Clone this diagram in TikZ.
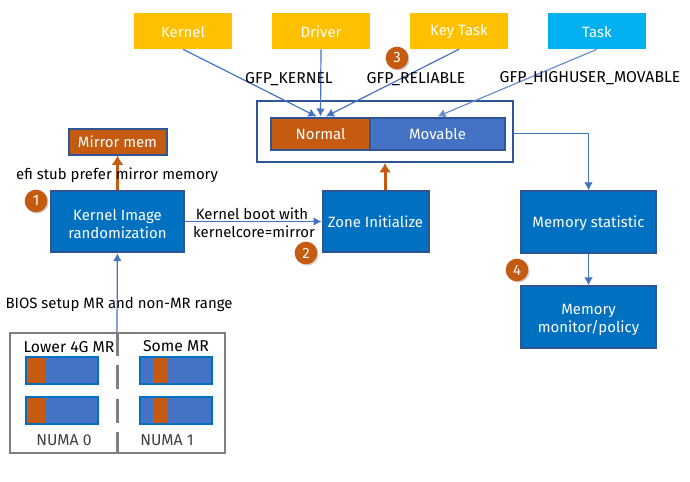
\documentclass[tikz,border=0pt]{standalone}
\usepackage{fontspec}
\setmainfont{Fira Sans}
\usepackage{xcolor}
\definecolor{boxBlue}{RGB}{0,112,192}
\definecolor{edgeBlue}{RGB}{47,85,151}
\definecolor{barBlue}{RGB}{68,114,196}
\definecolor{rustOrange}{RGB}{197,90,17}
\definecolor{keyYellow}{RGB}{255,192,0}
\definecolor{taskCyan}{RGB}{0,176,240}
\definecolor{frameGrey}{RGB}{127,127,127}
\usetikzlibrary{shapes,arrows.meta,positioning,shadows}
\tikzstyle{block} = [draw=edgeBlue, line width=1.5pt, fill=boxBlue, text=white, rectangle, align=center, minimum width=99.5pt, minimum height=46pt, inner sep=0pt, font=\fontsize{11.2}{13.5}\selectfont]
\tikzstyle{tag} = [fill=keyYellow, text=white, rectangle, minimum width=73.5pt, minimum height=27pt, inner sep=0pt, text height=9.5pt, font=\fontsize{11.2}{13.5}\selectfont]
\tikzstyle{zone} = [draw=edgeBlue, line width=1.5pt, text=white, rectangle, minimum height=24pt, inner sep=0pt, font=\fontsize{11.2}{13.5}\selectfont]
\tikzstyle{bar} = [draw=boxBlue, line width=1.5pt, fill=barBlue, rectangle, minimum width=54pt, minimum height=20pt, inner sep=0pt]
\tikzstyle{barMark} = [fill=rustOrange, rectangle, minimum width=13pt, minimum height=18.5pt, inner sep=0pt]
\tikzstyle{badge} = [circle, fill=rustOrange, text=white, minimum size=17pt, inner sep=0pt, font=\fontsize{11.2}{13.5}\selectfont, drop shadow={shadow xshift=1pt, shadow yshift=-1pt, opacity=.35}]
\tikzstyle{note} = [text=black, inner sep=0pt, font=\fontsize{11.2}{13.5}\selectfont]
\tikzstyle{capsNote} = [note, font=\fontsize{11.8}{13.5}\selectfont]
\tikzstyle{lightArrow} = [-{Latex[length=6pt,width=6.5pt]}, draw=barBlue, line width=.9pt]
\tikzstyle{heavyArrow} = [-{Latex[length=7pt,width=9pt]}, draw=rustOrange, line width=2.25pt]

\begin{document}
\begin{tikzpicture}[x=.75pt, y=-.75pt]
        \useasboundingbox (0,0) rectangle (690,482);
        % The boxes on the left
        \node [block, text height=25pt] at (117.5,221.5) (kernelImage) {Kernel Image\\randomization};
        \node [block, above of=kernelImage, node distance=60pt, fill=rustOrange, minimum width=73.5pt, minimum height=19.5pt, text height=9.5pt] (mirrorMem) {Mirror mem};
        \node [block, right of=kernelImage, node distance=193.5pt, minimum width=79.5pt] (zoneInit) {Zone Initialize};

        % Top row of callers
        \node [tag] at (183,31) (kernelTag) {Kernel};
        \node [tag, right of=kernelTag, node distance=103.5pt] (driverTag) {Driver};
        \node [tag, right of=driverTag, node distance=103.5pt] (keyTag) {Key Task};
        \node [tag, right of=keyTag, node distance=103.5pt, fill=taskCyan] (taskTag) {Task};

        % Zones
        \node [draw=edgeBlue, line width=1.5pt, minimum width=192pt, minimum height=45.75pt, inner sep=0pt] at (385,131.5) (zoneFrame) {};
        \node [zone, fill=rustOrange, minimum width=74.25pt] at (320.5,133.5) (normalZone) {Normal};
        \node [zone, fill=barBlue, minimum width=101.25pt, right of=normalZone, node distance=87.75pt] (movableZone) {Movable};

        % The boxes on the right
        \node [block, minimum width=101pt, text height=11pt] at (588.5,222) (memStat) {Memory statistic};
        \node [block, minimum width=101pt, text height=25pt, below of=memStat, node distance=71.25pt] (memMonitor) {Memory\\monitor/policy};

        % NUMA frame and its bars
        \node [draw=frameGrey, line width=1.5pt, minimum width=161.25pt, minimum height=90pt, inner sep=0pt] at (117,393) (numaFrame) {};
        \node [bar] at (61.5,370.5) (barA) {};
        \node [bar, below of=barA, node distance=30pt] (barB) {};
        \node [bar, right of=barA, node distance=85.5pt] (barC) {};
        \node [bar, below of=barC, node distance=30pt] (barD) {};
        \node [barMark] at (36,370.5) (markA) {};
        \node [barMark, below of=markA, node distance=30pt] (markB) {};
        \node [barMark, minimum width=11pt] at (160.5,370.5) (markC) {};
        \node [barMark, minimum width=11pt, below of=markC, node distance=30pt] (markD) {};

        % Connectors
        \draw [heavyArrow] (kernelImage) -- (mirrorMem);
        \draw [heavyArrow] (zoneFrame.south |- zoneInit.north) -- (zoneFrame.south);
        \draw [lightArrow] (numaFrame.north) -- (kernelImage);
        \draw [lightArrow] (kernelImage) -- (zoneInit);
        \draw [lightArrow] (kernelTag.south) -- ([xshift=-3pt]normalZone.north);
        \draw [lightArrow] (driverTag.south) -- (normalZone.north);
        \draw [lightArrow] (keyTag.south) -- ([xshift=4pt]normalZone.north);
        \draw [lightArrow, draw=barBlue!80!white] (taskTag.south) -- (movableZone.north);
        \draw [lightArrow] (zoneFrame.east |- movableZone) -| (memStat.north);
        \draw [lightArrow] (memStat) -- (memMonitor);
        \draw [draw=frameGrey, line width=2.25pt, dash pattern=on 18pt off 7pt] (numaFrame.north) -- (numaFrame.south);

        % Labels
        \node [note] at (117,175) (mirrorNote) {efi stub prefer mirror memory};
        \node [note] at (252,214) (bootNote) {Kernel boot with};
        \node [note] at (254,232) (coreNote) {kernelcore=mirror};
        \node [note] at (119,304) (biosNote) {BIOS setup MR and non-MR range};
        \node [capsNote] at (289,79) (kernelNote) {GFP\_KERNEL};
        \node [capsNote] at (416,79) (reliableNote) {GFP\_RELIABLE};
        \node [capsNote] at (590,78) (movableNote) {GFP\_HIGHUSER\_MOVABLE};
        \node [capsNote] at (69,347) (lowerNote) {Lower 4G MR};
        \node [capsNote] at (176,346) (someNote) {Some MR};
        \node [capsNote, text=black!75] at (64,440) (numaZero) {NUMA 0};
        \node [capsNote, text=black!75] at (167,440) (numaOne) {NUMA 1};

        % Numbered badges
        \node [badge] at (36,201) (stepOne) {1};
        \node [badge] at (306,253) (stepTwo) {2};
        \node [badge] at (397,58) (stepThree) {3};
        \node [badge] at (517,270) (stepFour) {4};
    \end{tikzpicture}
\end{document}
